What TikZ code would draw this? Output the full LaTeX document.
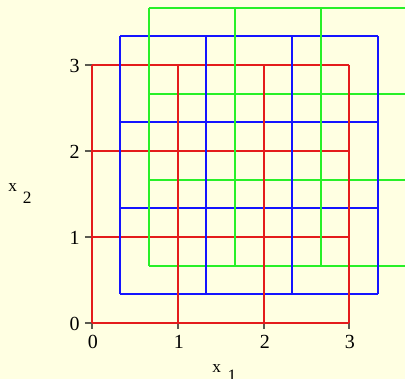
\documentclass[tikz,border=0pt]{standalone}
\usepackage{fontspec}
\setmainfont{Liberation Serif}
\definecolor{bg}{RGB}{255,255,226}
\definecolor{gred}{RGB}{228,28,28}
\definecolor{gblue}{RGB}{20,20,255}
\definecolor{ggreen}{RGB}{40,240,40}
\definecolor{tickc}{RGB}{90,90,80}
\begin{document}
\begin{tikzpicture}[x=0.75pt,y=-0.75pt,
  gl/.style={line width=1.1pt},
  tk/.style={line width=0.9pt, draw=tickc},
  num/.style={font=\fontsize{15}{18}\selectfont, inner sep=0pt},
  axl/.style={font=\fontsize{13}{15}\selectfont, inner sep=0pt}]
\fill[bg] (0,0) rectangle (405,379);
\useasboundingbox (0,0) rectangle (405,379);
\begin{scope}
\clip (0,0) rectangle (405,379);
% ticks
\foreach \y in {323,237,151,65}{
  \draw[tk] (85,\y) -- (92,\y);
}
\foreach \x in {92,178,264,349}{
  \draw[tk] (\x,323) -- (\x,329);
}
% horizontal lines
\foreach \y in {323,237,151,65}{
  \draw[gl,gred] (92,\y) -- (349,\y);
}
\foreach \y in {294,208,122,36}{
  \draw[gl,gblue] (120,\y) -- (378,\y);
}
\foreach \y in {266,180,94,8}{
  \draw[gl,ggreen] (149,\y) -- (407,\y);
}
% vertical lines
\foreach \x in {92,178,264,349}{
  \draw[gl,gred] (\x,65) -- (\x,323);
}
\foreach \x in {120,206,292,378}{
  \draw[gl,gblue] (\x,36) -- (\x,294);
}
\foreach \x in {149,235,321,407}{
  \draw[gl,ggreen] (\x,8) -- (\x,266);
}
\end{scope}
% y tick labels
\node[num,anchor=base east] (ly0) at (80,330) {0};
\node[num,anchor=base east] (ly1) at (80,244) {1};
\node[num,anchor=base east] (ly2) at (80,158) {2};
\node[num,anchor=base east] (ly3) at (80,72) {3};
% x tick labels
\node[num,anchor=base] (lx0) at (93,348) {0};
\node[num,anchor=base] (lx1) at (179,348) {1};
\node[num,anchor=base] (lx2) at (265,348) {2};
\node[num,anchor=base] (lx3) at (350,348) {3};
% axis labels
\node[axl,anchor=base west] (xtwo) at (8,191) {x\hspace{4.5pt}\raisebox{-9pt}{2}};
\node[axl,anchor=base west] (xone) at (212,372) {x\hspace{5pt}\raisebox{-7pt}{1}};
\end{tikzpicture}
\end{document}
